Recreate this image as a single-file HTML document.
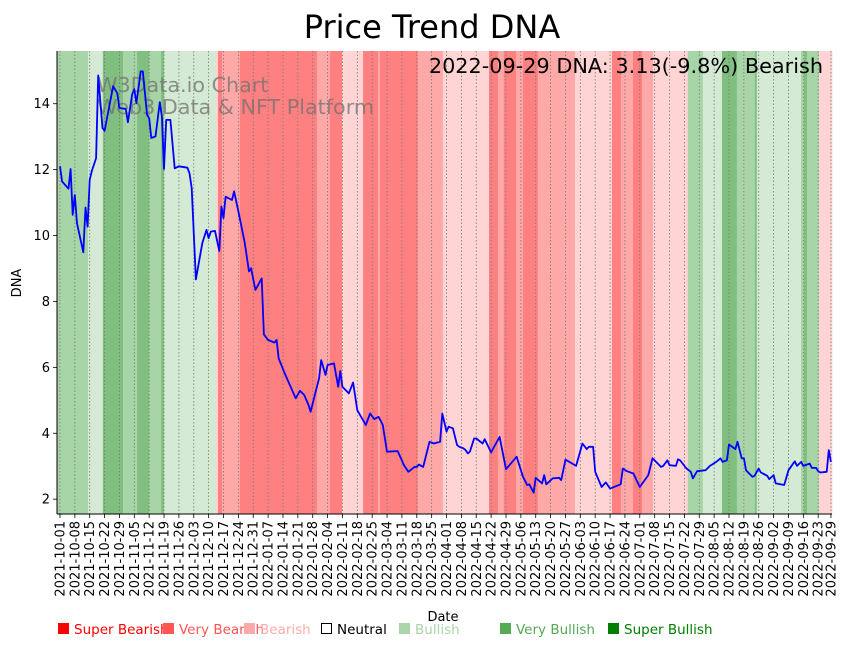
<!DOCTYPE html>
<html><head><meta charset="utf-8"><style>
body{margin:0;background:#fff;width:851px;height:646px;overflow:hidden}
svg{display:block;font-family:"DejaVu Sans","Liberation Sans",sans-serif}
</style></head><body>
<svg id="chart" width="851" height="646" viewBox="0 0 851 646">
<g id="bands"></g>
<g id="grid"></g>
<g id="xaxis"></g>
<g id="yaxis"></g>
<text x="97" y="92" font-size="20.7" fill="#707070" fill-opacity="0.75">W3Data.io Chart</text>
<text x="97" y="114" font-size="20.7" fill="#707070" fill-opacity="0.75">Web3 Data &amp; NFT Platform</text>
<g id="series"></g>
<text x="432" y="38" font-size="32" text-anchor="middle" fill="#000">Price Trend DNA</text>
<text x="823" y="73" font-size="20.8" text-anchor="end" fill="#000">2022-09-29 DNA: 3.13(-9.8%) Bearish</text>
<text transform="translate(21,283) rotate(-90)" font-size="13" text-anchor="middle">DNA</text>
<text x="443" y="621" font-size="13" text-anchor="middle">Date</text>
<g font-size="13.5">
<g><rect x="58" y="623" width="11" height="11" fill="#ff0000"/><text x="74" y="634" fill="#ff0000">Super Bearish</text></g>
<g><rect x="163" y="623" width="11" height="11" fill="#ff5555"/><text x="179" y="634" fill="#ff5555">Very Bearish</text></g>
<g><rect x="244" y="623" width="11" height="11" fill="#ffaaaa"/><text x="260" y="634" fill="#ffaaaa">Bearish</text></g>
<g><rect x="321.5" y="623.5" width="10" height="10" fill="#fff" stroke="#000"/><text x="337" y="634" fill="#000">Neutral</text></g>
<g><rect x="399" y="623" width="11" height="11" fill="#aad4aa"/><text x="415" y="634" fill="#aad4aa">Bullish</text></g>
<g><rect x="500" y="623" width="11" height="11" fill="#55aa55"/><text x="516" y="634" fill="#55aa55">Very Bullish</text></g>
<g><rect x="608" y="623" width="11" height="11" fill="#008000"/><text x="624" y="634" fill="#008000">Super Bullish</text></g>
</g>
</svg>
<script>
// data: day offsets from 2021-10-01 and DNA values
const days=[0,1,4,5,6,7,8,11,12,13,14,15,17,18,20,21,25,27,28,31,32,34,35,36,38,39,41,42,43,45,47,48,49,50,52,54,56,60,61,62,64,67,69,70,71,73,75,76,77,78,81,82,84,87,89,90,92,95,96,98,101,102,103,106,111,113,115,117,118,122,123,125,126,129,131,132,133,136,138,140,144,146,148,150,152,154,159,162,164,167,168,169,171,174,176,179,180,182,183,185,187,188,190,191,192,193,195,196,199,200,203,204,207,210,215,218,220,221,223,224,227,228,229,232,235,236,237,238,243,246,248,249,251,252,255,257,259,264,265,267,270,273,277,279,283,284,286,287,290,291,292,295,297,298,300,304,306,307,309,311,312,314,315,318,319,321,322,323,326,327,329,330,333,334,336,337,341,343,346,347,349,350,353,354,356,357,358,361,362,363];
const values=[12.1,11.64,11.42,12.02,10.63,11.23,10.37,9.49,10.85,10.27,11.69,11.96,12.35,14.86,13.26,13.18,14.53,14.32,13.87,13.84,13.44,14.29,14.44,14.02,14.98,14.98,13.66,13.56,12.96,13.01,14.05,13.61,12.02,13.51,13.51,12.04,12.1,12.06,11.89,11.44,8.67,9.77,10.17,9.92,10.12,10.14,9.53,10.88,10.53,11.18,11.08,11.34,10.73,9.77,8.91,9.01,8.35,8.7,7.0,6.83,6.75,6.83,6.27,5.79,5.06,5.29,5.16,4.86,4.65,5.67,6.22,5.77,6.07,6.12,5.41,5.89,5.41,5.21,5.54,4.7,4.25,4.6,4.43,4.5,4.25,3.44,3.46,3.03,2.83,2.98,2.98,3.05,2.98,3.74,3.69,3.74,4.6,4.05,4.2,4.15,3.64,3.59,3.54,3.49,3.39,3.44,3.84,3.84,3.69,3.82,3.42,3.54,3.89,2.91,3.29,2.68,2.43,2.45,2.2,2.65,2.48,2.73,2.45,2.63,2.65,2.58,2.88,3.2,3.01,3.69,3.52,3.59,3.59,2.83,2.37,2.51,2.32,2.45,2.93,2.85,2.78,2.37,2.73,3.24,2.98,3.01,3.18,3.03,3.01,3.21,3.18,2.93,2.83,2.63,2.85,2.88,3.01,3.05,3.13,3.24,3.13,3.18,3.66,3.52,3.74,3.24,3.24,2.88,2.68,2.71,2.93,2.81,2.71,2.61,2.73,2.48,2.43,2.88,3.15,3.01,3.13,3.01,3.08,2.95,2.95,2.85,2.81,2.83,3.49,3.13];
// trend bands: start day and level (-3 super bearish .. 3 super bullish)
const bandStarts=[-1.4,13.2,20.2,29.7,36.3,41.9,47.6,49.0,73.4,74.4,76.3,84.7,121,127.1,132.8,142.7,149.7,150.7,168.5,180.3,202,206.2,209,214.7,218,225,242.5,259.9,264.1,269.8,274,279.2,295.6,302.7,311.7,318.7,327.2,328.1,348.9,350.3,351.7,357.3];
const bandLevels=[2,1,3,2,3,2,3,1,-1,-3,-2,-3,-2,-3,-1,-3,-2,-3,-2,-1,-3,-2,-3,-2,-3,-2,-1,-3,-2,-3,-2,-1,2,1,3,2,3,1,2,3,2,-1];
const yTicks=[2,4,6,8,10,12,14];
const xTickDays=[];for(let d=0;d<=357;d+=7)xTickDays.push(d);xTickDays.push(363);

const NS="http://www.w3.org/2000/svg";
const L=57,R=832,T=51,B=514,DMIN=-1.4,DMAX=363.5,VMIN=1.55,VMAX=15.6;
const x=d=>L+(d-DMIN)/(DMAX-DMIN)*(R-L);
const y=v=>B-(v-VMIN)/(VMAX-VMIN)*(B-T);
function mk(tag,attrs,parent){const e=document.createElementNS(NS,tag);for(const k in attrs)e.setAttribute(k,attrs[k]);parent.appendChild(e);return e;}
const colors={"-3":"#ff8080","-2":"#ffa8a8","-1":"#ffd4d4","1":"#d4ead4","2":"#a8d5a8","3":"#80bf80"};
const gB=document.getElementById('bands');
for(let i=0;i<bandStarts.length;i++){
  const s=bandStarts[i],e=i+1<bandStarts.length?bandStarts[i+1]:DMAX;
  const r=mk('rect',{x:x(s),y:T,width:x(e)-x(s)+0.3,height:B-T,fill:colors[bandLevels[i]]},gB);
  
  
}
const base=new Date(Date.UTC(2021,9,1));
const gG=document.getElementById('grid'),gX=document.getElementById('xaxis');
xTickDays.forEach(d=>{
  const px=x(d);
  const gl=mk('line',{x1:px,x2:px,y1:T,y2:B,stroke:'#777','stroke-width':0.8,'stroke-dasharray':'1.5,2'},gG);
  
  
  mk('line',{x1:px,x2:px,y1:B,y2:B+4,stroke:'#000','stroke-width':0.8},gX);
  const dt=new Date(base.getTime()+d*86400000);
  const t=mk('text',{transform:`translate(${px+4.5},${B+7}) rotate(-90)`,'font-size':13,'text-anchor':'end'},gX);
  t.textContent=dt.toISOString().slice(0,10);
  
  
});
mk('line',{x1:L,x2:R,y1:B,y2:B,stroke:'#000','stroke-width':1},gX);
const gY=document.getElementById('yaxis');
yTicks.forEach(v=>{
  const py=y(v);
  mk('line',{x1:L-4,x2:L,y1:py,y2:py,stroke:'#000','stroke-width':0.8},gY);
  const t=mk('text',{x:L-7,y:py+4.5,'font-size':13,'text-anchor':'end'},gY);
  t.textContent=v;
  
  
});
mk('line',{x1:L,x2:L,y1:T,y2:B,stroke:'#000','stroke-width':1},gY);
const gS=document.getElementById('series');
const p=mk('path',{d:days.map((d,i)=>(i?'L':'M')+x(d).toFixed(1)+','+y(values[i]).toFixed(1)).join(''),fill:'none',stroke:'#0000ff','stroke-width':1.8,'stroke-linejoin':'round'},gS);


</script>
</body></html>
